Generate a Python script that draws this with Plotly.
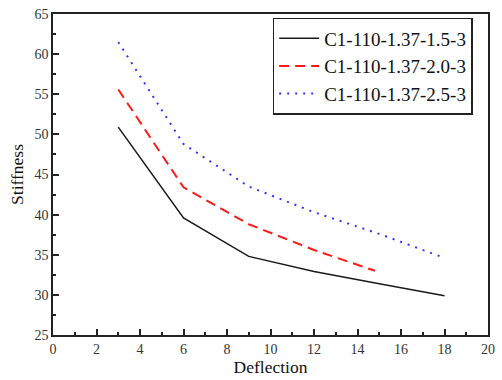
import plotly.graph_objects as go

x_black = [3, 6, 9, 12, 15, 18]
y_black = [50.9, 39.6, 34.8, 32.9, 31.4, 29.9]
x_red = [3, 6, 9, 12, 14.8]
y_red = [55.6, 43.4, 38.8, 35.6, 33.0]
x_blue = [3, 6, 9, 12, 15, 17.8]
y_blue = [61.5, 48.8, 43.5, 40.3, 37.6, 34.8]
names = ["C1-110-1.37-1.5-3", "C1-110-1.37-2.0-3", "C1-110-1.37-2.5-3"]

fig = go.Figure()
fig.add_trace(go.Scatter(x=x_black, y=y_black, mode="lines", name=names[0],
                         line=dict(color="#1a1a1a", width=1.5)))
fig.add_trace(go.Scatter(x=x_red, y=y_red, mode="lines", name=names[1],
                         line=dict(color="#ff1a1a", width=2, dash="10px,6px")))
fig.add_trace(go.Scatter(x=x_blue, y=y_blue, mode="lines", name=names[2],
                         line=dict(color="#3333ff", width=2, dash="2px,6px")))

font = "Liberation Serif"
axis_common = dict(showline=True, linecolor="#222", linewidth=1.5, mirror=True,
                   ticks="inside", ticklen=6, tickwidth=1.5, tickcolor="#222",
                   showgrid=False, zeroline=False,
                   tickfont=dict(family=font, size=14, color="#333"))
fig.update_xaxes(range=[0, 20], tick0=0, dtick=2,
                 minor=dict(ticks="inside", ticklen=3, tickwidth=1.5, tickcolor="#222", dtick=1),
                 title=dict(text="Deflection", font=dict(family=font, size=17.5, color="#111"), standoff=4),
                 **axis_common)
fig.update_yaxes(range=[25, 65], tick0=25, dtick=5,
                 minor=dict(ticks="inside", ticklen=3, tickwidth=1.5, tickcolor="#222", dtick=2.5),
                 title=dict(text="Stiffness", font=dict(family=font, size=17.5, color="#111"), standoff=6),
                 **axis_common)
fig.update_layout(
    width=502, height=380,
    margin=dict(l=53, r=7, t=10, b=44),
    plot_bgcolor="white", paper_bgcolor="white",
    legend=dict(x=0.505, y=0.988, xanchor="left", yanchor="top",
                bordercolor="#222", borderwidth=1.5, bgcolor="white",
                font=dict(family=font, size=19, color="#111"),
                tracegroupgap=0, itemwidth=40),
    showlegend=True,
)
fig.write_html("out.html")
